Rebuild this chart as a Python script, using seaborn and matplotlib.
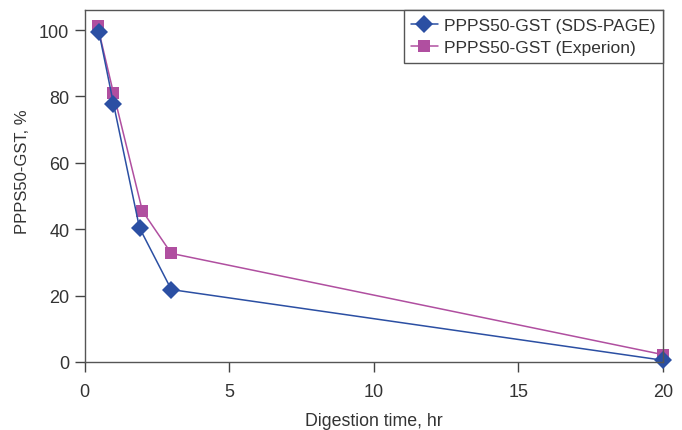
import matplotlib
matplotlib.use("Agg")
import matplotlib.pyplot as plt
import seaborn as sns
import pandas as pd

# Data
time_sds = [0.5, 1.0, 1.9, 3.0, 20.0]
pct_sds = [99.3, 77.8, 40.4, 21.8, 0.5]
time_exp = [0.45, 1.0, 2.0, 3.0, 20.0]
pct_exp = [101.3, 81.0, 45.5, 32.7, 2.2]
label_sds = "PPPS50-GST (SDS-PAGE)"
label_exp = "PPPS50-GST (Experion)"
xticks = [0, 5, 10, 15, 20]
yticks = [0, 20, 40, 60, 80, 100]

sns.set_theme(style="white")
plt.rcParams['font.family'] = ['Liberation Sans', 'DejaVu Sans']

df_sds = pd.DataFrame({"t": time_sds, "p": pct_sds})
df_exp = pd.DataFrame({"t": time_exp, "p": pct_exp})

fig = plt.figure(figsize=(6.82, 4.31), dpi=100)
ax = fig.add_axes([0.124, 0.158, 0.848, 0.816])

blue = "#2b4fa3"
mag = "#b04fa0"
txt = "#333333"

sns.lineplot(data=df_sds, x="t", y="p", ax=ax, color=blue, marker="D",
             markersize=9, markeredgewidth=0, linewidth=1.1, label=label_sds,
             sort=False, clip_on=False)
sns.lineplot(data=df_exp, x="t", y="p", ax=ax, color=mag, marker="s",
             markersize=8, markeredgewidth=0, linewidth=1.1, label=label_exp,
             sort=False, clip_on=False, zorder=1)

ax.set_xlim(0, 20)
ax.set_ylim(0, 106)
ax.set_xticks(xticks)
ax.set_yticks(yticks)
ax.tick_params(axis="both", direction="out", length=7, width=1, color="#444444",
               labelsize=13, labelcolor=txt, left=True, bottom=True)
ax.tick_params(axis="x", pad=8)
ax.tick_params(axis="y", pad=4)
for s in ax.spines.values():
    s.set_color("#555555")
    s.set_linewidth(1.0)

ax.set_xlabel("Digestion time, hr", fontsize=12.8, color=txt, labelpad=9)
ax.set_ylabel("PPPS50-GST, %", fontsize=12, color=txt)
ax.yaxis.set_label_coords(-0.094, 0.543)

leg = ax.legend(loc="upper right", bbox_to_anchor=(1.0, 1.0), fontsize=12.5,
                frameon=True, fancybox=False, framealpha=1, borderpad=0.45,
                handlelength=1.5, handletextpad=0.35, labelspacing=0.38,
                borderaxespad=0)
leg.get_frame().set_edgecolor("#555555")
leg.get_frame().set_linewidth(1.0)
for t in leg.get_texts():
    t.set_color(txt)

fig.savefig("out.png", dpi=100)
